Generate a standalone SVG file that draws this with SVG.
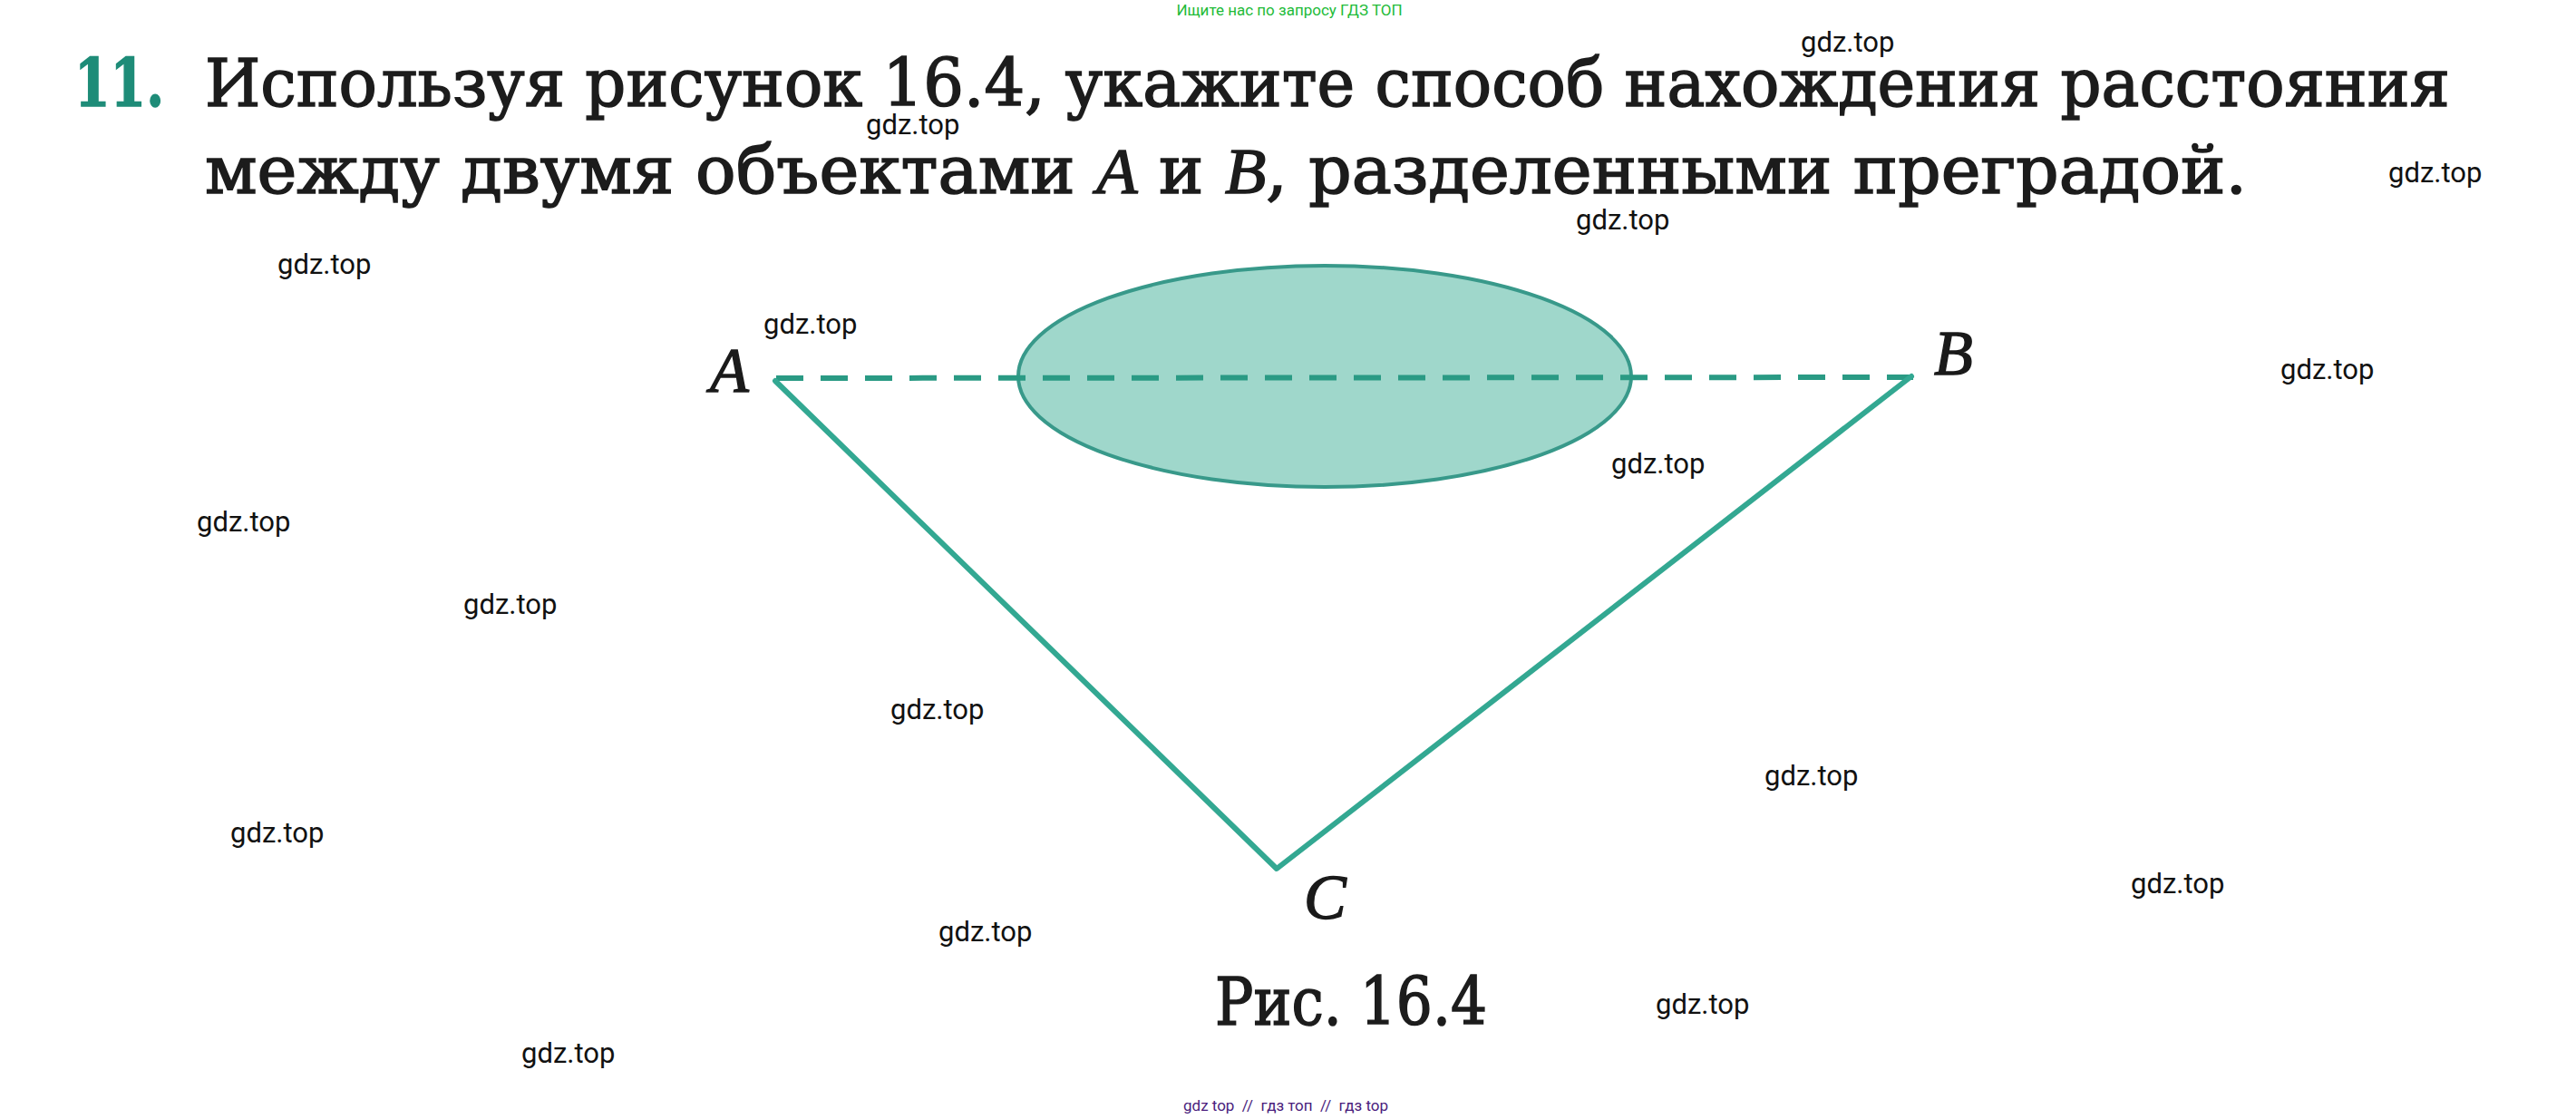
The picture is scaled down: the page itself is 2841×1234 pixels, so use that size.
<svg xmlns="http://www.w3.org/2000/svg" width="2841" height="1234" viewBox="0 0 2841 1234">
<style>
.wm{font-family:Roboto,"Liberation Sans",sans-serif;font-size:31px;fill:#111}
.title{font-family:"DejaVu Serif","Liberation Serif",serif;font-size:72px;fill:#1c1c1c;stroke:#1c1c1c;stroke-width:1.6}
.lbl{font-family:"Liberation Serif","DejaVu Serif",serif;font-style:italic;font-size:70px;fill:#1a1a1a;stroke:#1a1a1a;stroke-width:1.4}
.edge{stroke:#33a892;stroke-width:6;fill:none;stroke-linecap:round;stroke-linejoin:round}
</style>
<rect width="2841" height="1234" fill="#ffffff"/>
<text x="1422" y="17" text-anchor="middle" font-family="Roboto,'Liberation Sans',sans-serif" font-size="17" fill="#22bb38">Ищите нас по запросу ГДЗ ТОП</text>
<g id="task">
<text x="82" y="117" class="title" font-weight="bold" textLength="99" lengthAdjust="spacingAndGlyphs" style="fill:#1e8c78;stroke:#1e8c78">11.</text>
<text x="226" y="117" class="title" textLength="2476" lengthAdjust="spacingAndGlyphs">Используя рисунок 16.4, укажите способ нахождения расстояния</text>
<text x="226" y="213" class="title" textLength="2252" lengthAdjust="spacingAndGlyphs">между двумя объектами <tspan font-family="Liberation Serif,serif" font-style="italic">A</tspan> и <tspan font-family="Liberation Serif,serif" font-style="italic">B</tspan>, разделенными преградой.</text>
</g>
<g id="obstacle">
<ellipse cx="1461" cy="415" rx="338" ry="122" fill="#9fd7cb" stroke="#38998a" stroke-width="4"/>
</g>
<g id="connectors">
<line x1="856" y1="417" x2="2110" y2="416" stroke="#2a9a84" stroke-width="6" stroke-dasharray="30 19"/>
<polyline class="edge" points="855,420 1408,958 2108,415"/>
</g>
<g id="A"><text x="783" y="432" class="lbl">A</text></g>
<g id="B"><text x="2133" y="413" class="lbl">B</text></g>
<g id="C"><text x="1438" y="1013" class="lbl">C</text></g>
<g id="caption"><text x="1340" y="1130" class="title" textLength="300" lengthAdjust="spacingAndGlyphs">Рис. 16.4</text></g>
<g id="watermarks">
<text class="wm" x="1986" y="57">gdz.top</text>
<text class="wm" x="955" y="148">gdz.top</text>
<text class="wm" x="2634" y="201">gdz.top</text>
<text class="wm" x="1738" y="253">gdz.top</text>
<text class="wm" x="306" y="302">gdz.top</text>
<text class="wm" x="842" y="368">gdz.top</text>
<text class="wm" x="2515" y="418">gdz.top</text>
<text class="wm" x="1777" y="522">gdz.top</text>
<text class="wm" x="217" y="586">gdz.top</text>
<text class="wm" x="511" y="677">gdz.top</text>
<text class="wm" x="982" y="793">gdz.top</text>
<text class="wm" x="1946" y="866">gdz.top</text>
<text class="wm" x="254" y="929">gdz.top</text>
<text class="wm" x="2350" y="985">gdz.top</text>
<text class="wm" x="1035" y="1038">gdz.top</text>
<text class="wm" x="1826" y="1118">gdz.top</text>
<text class="wm" x="575" y="1172">gdz.top</text>
</g>
<text x="1305" y="1225" font-family="Roboto,'Liberation Sans',sans-serif" font-size="17" fill="#4a1d7d" xml:space="preserve">gdz top  //  гдз топ  //  гдз top</text>
</svg>
